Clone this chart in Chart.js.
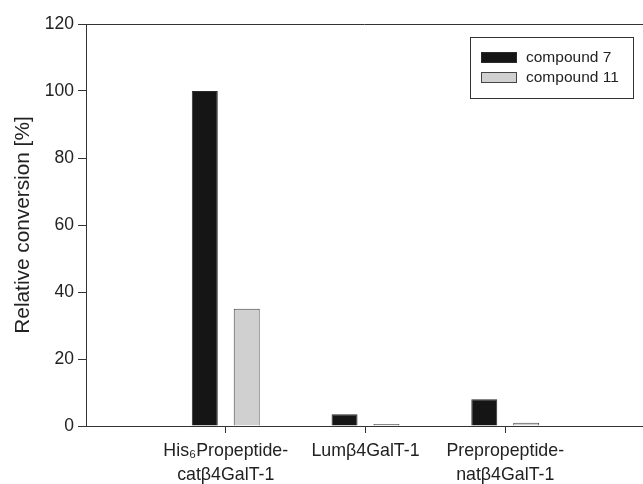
<!DOCTYPE html>
<html>
<head>
<meta charset="utf-8">
<script src="https://cdn.jsdelivr.net/npm/chart.js@4/dist/chart.umd.min.js"></script>
<style>
  html, body { margin: 0; padding: 0; background: #fff; overflow: hidden; }
  #wrap { width: 643px; height: 484px; }
</style>
</head>
<body>
<div id="wrap"><canvas id="chart"></canvas></div>
<script>
// Data
const categories = [["His₆Propeptide-", "catβ4GalT-1"], "Lumβ4GalT-1", ["Prepropeptide-", "natβ4GalT-1"]];
const compound7 = [100, 3.5, 8];
const compound11 = [35, 0.6, 1];
const seriesNames = ["compound 7", "compound 11"];
const yMin = 0;
const yMax = 120;
const yStep = 20;

// empty slots on both sides so the groups sit like in the original
const labels = ["", ...categories, ""];
const pad = (arr) => [null, ...arr, null];

const textColor = "#222";
const lineColor = "#333";
const fontFamily = "'Liberation Sans', Arial, Helvetica, sans-serif";

// in the original the plot runs a few px past the right edge of the image
const stretchX = {
  id: "stretchX",
  afterLayout(chart) {
    const x = chart.scales.x;
    const extra = chart.width + 2 - x.right;
    x.right += extra;
    x.width += extra;
    x.configure();
  }
};

// legend box inside the plot + top frame line
const frameAndLegend = {
  id: "frameAndLegend",
  afterDraw(chart) {
    const { ctx, chartArea } = chart;
    ctx.save();
    ctx.strokeStyle = lineColor;
    ctx.lineWidth = 1;
    ctx.beginPath();
    ctx.moveTo(chartArea.left, chartArea.top + 0.5);
    ctx.lineTo(chart.width, chartArea.top + 0.5);
    ctx.stroke();

    const boxX = chart.width - 173;
    const boxY = chartArea.top + 13;
    ctx.strokeRect(boxX + 0.5, boxY + 0.5, 163, 61);

    ctx.font = "15.5px " + fontFamily;
    ctx.textBaseline = "middle";
    chart.data.datasets.forEach((ds, i) => {
      const sy = boxY + 15 + i * 20;
      ctx.fillStyle = ds.backgroundColor;
      ctx.fillRect(boxX + 11, sy, 36, 11);
      ctx.strokeStyle = ds.borderColor;
      ctx.strokeRect(boxX + 11.5, sy + 0.5, 35, 10);
      ctx.fillStyle = textColor;
      ctx.fillText(ds.label, boxX + 56, sy + 6);
    });
    ctx.restore();
  }
};

const ctx = document.getElementById("chart").getContext("2d");
const chart = new Chart(ctx, {
  type: "bar",
  data: {
    labels: labels,
    datasets: [
      {
        label: seriesNames[0],
        data: pad(compound7),
        backgroundColor: "#151515",
        borderColor: "#2a2a2a",
        borderWidth: 1,
      },
      {
        label: seriesNames[1],
        data: pad(compound11),
        backgroundColor: "#d0d0d0",
        borderColor: "#444",
        borderWidth: 1,
      },
    ],
  },
  options: {
    responsive: true,
    maintainAspectRatio: false,
    animation: false,
    categoryPercentage: 0.6,
    barPercentage: 0.62,
    layout: { padding: { top: 24, right: 0, left: 0, bottom: 0 } },
    plugins: {
      legend: { display: false },
      tooltip: { enabled: false },
    },
    scales: {
      x: {
        offset: false,
        afterFit: (scale) => { scale.height = 58; },
        border: { display: true, color: lineColor, width: 1 },
        grid: {
          offset: false,
          drawOnChartArea: false,
          drawTicks: true,
          tickLength: 7,
          tickColor: (c) => (c.index === 0 || c.index === labels.length - 1 ? "rgba(0,0,0,0)" : lineColor),
        },
        ticks: {
          color: textColor,
          padding: 6,
          maxRotation: 0,
          autoSkip: false,
          font: { family: fontFamily, size: 17.8, lineHeight: 1.36 },
        },
      },
      y: {
        min: yMin,
        max: yMax,
        afterFit: (scale) => { scale.width = 86; },
        border: { display: true, color: lineColor, width: 1 },
        grid: {
          drawOnChartArea: false,
          drawTicks: true,
          tickLength: 8,
          tickColor: lineColor,
        },
        ticks: {
          stepSize: yStep,
          color: textColor,
          padding: 4,
          font: { family: fontFamily, size: 17.5 },
        },
        title: {
          display: true,
          text: "Relative conversion [%]",
          color: textColor,
          padding: { top: 11, bottom: 0 },
          font: { family: fontFamily, size: 20.8, lineHeight: 1.2 },
        },
      },
    },
  },
  plugins: [stretchX, frameAndLegend],
});
</script>
</body>
</html>
